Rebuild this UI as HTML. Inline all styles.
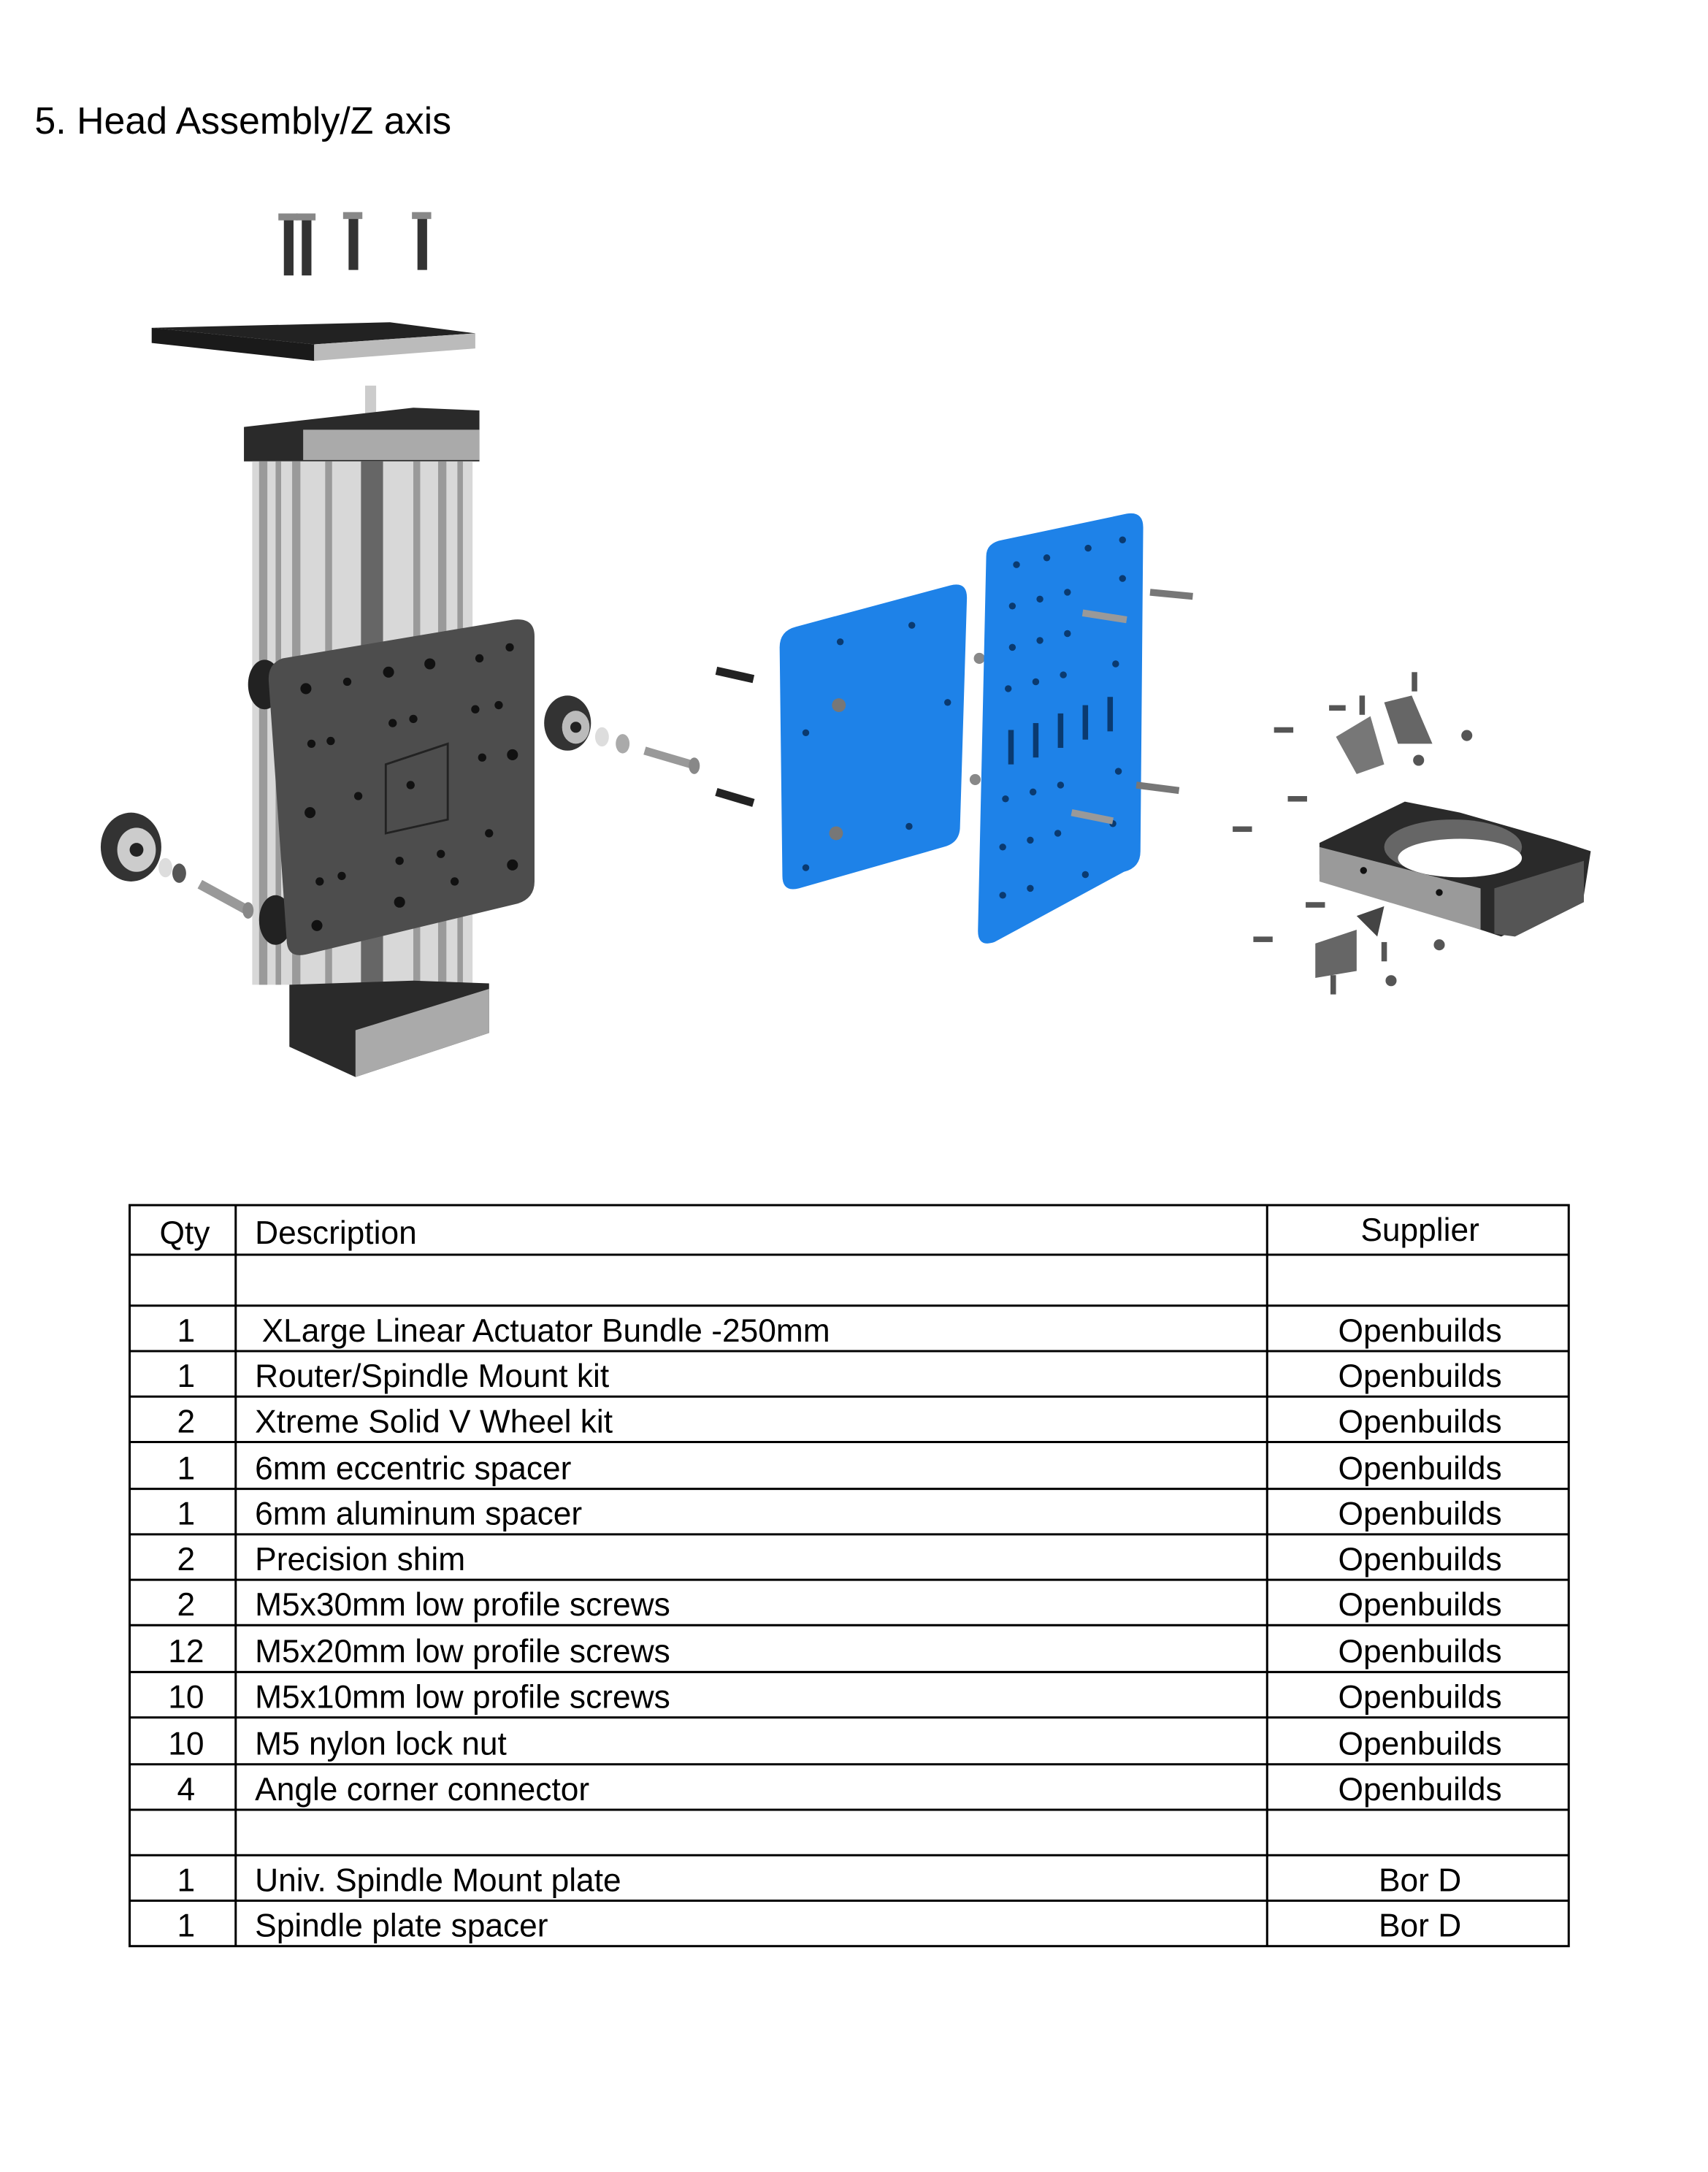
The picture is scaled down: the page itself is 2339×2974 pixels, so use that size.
<!DOCTYPE html>
<html><head><meta charset="utf-8">
<style>
html,body{margin:0;padding:0;background:#fff;}
svg{display:block;}
text{font-family:"Liberation Sans",sans-serif;fill:#000;}
</style></head>
<body>
<svg width="2339" height="2974" viewBox="0 0 1240 1577" xmlns="http://www.w3.org/2000/svg">
<rect width="1240" height="1577" fill="#fff"/>
<text x="25" y="97" font-size="27.5">5. Head Assembly/Z axis</text>

<!-- top screws -->
<g fill="#333">
<rect x="206" y="158" width="7" height="42"/><rect x="202" y="155" width="14" height="5" fill="#888"/>
<rect x="219" y="158" width="7" height="42"/><rect x="215" y="155" width="14" height="5" fill="#888"/>
<rect x="253" y="158" width="7" height="38"/><rect x="249" y="154" width="14" height="5" fill="#888"/>
<rect x="303" y="158" width="7" height="38"/><rect x="299" y="154" width="14" height="5" fill="#888"/>
</g>
<!-- top plate -->
<polygon points="110,238 283,234 345,242 228,250" fill="#222"/>
<polygon points="110,238 228,250 228,262 110,249" fill="#1a1a1a"/>
<polygon points="228,250 345,242 345,253 228,262" fill="#bbb"/>

<!-- actuator -->
<rect x="265" y="280" width="8" height="24" fill="#ccc"/>
<polygon points="177,310 300,296 348,298 348,335 177,335" fill="#2a2a2a"/>
<rect x="220" y="312" width="128" height="22" fill="#aaa"/>
<rect x="183" y="335" width="160" height="380" fill="#d8d8d8"/>
<g fill="#9a9a9a">
<rect x="188" y="335" width="6" height="380"/><rect x="200" y="335" width="4" height="380"/>
<rect x="212" y="335" width="6" height="380"/><rect x="236" y="335" width="5" height="380"/>
<rect x="262" y="335" width="16" height="380" fill="#666"/>
<rect x="300" y="335" width="5" height="380"/><rect x="318" y="335" width="6" height="380"/>
<rect x="332" y="335" width="4" height="380"/>
</g>
<polygon points="210,715 300,712 355,714 355,750 258,782 210,760" fill="#2a2a2a"/>
<polygon points="258,748 355,718 355,750 258,782" fill="#aaa"/>

<!-- wheels behind plate -->
<ellipse cx="192" cy="497" rx="12" ry="18" fill="#222"/>
<ellipse cx="200" cy="668" rx="12" ry="18" fill="#222"/>
<!-- gantry plate -->
<path d="M205,478 L372,450 Q388,448 388,462 L388,640 Q388,652 376,656 L222,693 Q208,696 208,682 L195,495 Q194,482 205,478 Z" fill="#4d4d4d"/>
<g fill="#111">
<circle cx="222" cy="500" r="4"/><circle cx="252" cy="495" r="3"/><circle cx="282" cy="488" r="4"/><circle cx="312" cy="482" r="4"/><circle cx="348" cy="478" r="3"/><circle cx="370" cy="470" r="3"/>
<circle cx="226" cy="540" r="3"/><circle cx="240" cy="538" r="3"/><circle cx="285" cy="525" r="3"/><circle cx="300" cy="522" r="3"/><circle cx="345" cy="515" r="3"/><circle cx="362" cy="512" r="3"/>
<circle cx="225" cy="590" r="4"/><circle cx="260" cy="578" r="3"/><circle cx="298" cy="570" r="3"/><circle cx="350" cy="550" r="3"/><circle cx="372" cy="548" r="4"/>
<circle cx="232" cy="640" r="3"/><circle cx="248" cy="636" r="3"/><circle cx="290" cy="625" r="3"/><circle cx="320" cy="620" r="3"/><circle cx="355" cy="605" r="3"/><circle cx="372" cy="628" r="4"/>
<circle cx="230" cy="672" r="4"/><circle cx="290" cy="655" r="4"/><circle cx="330" cy="640" r="3"/>
</g>
<polygon points="280,555 325,540 325,595 280,605" fill="none" stroke="#222" stroke-width="1.5"/>

<!-- left wheel -->
<ellipse cx="95" cy="615" rx="22" ry="25" fill="#333"/>
<ellipse cx="99" cy="617" rx="14" ry="16" fill="#ccc"/>
<circle cx="99" cy="617" r="5" fill="#222"/>
<ellipse cx="120" cy="630" rx="5" ry="7" fill="#ddd"/>
<ellipse cx="130" cy="634" rx="5" ry="7" fill="#555"/>
<line x1="145" y1="642" x2="178" y2="660" stroke="#999" stroke-width="7"/>
<ellipse cx="180" cy="661" rx="4" ry="6" fill="#888"/>

<!-- right wheel -->
<ellipse cx="412" cy="525" rx="17" ry="20" fill="#333"/>
<ellipse cx="418" cy="528" rx="10" ry="12" fill="#bbb"/>
<circle cx="418" cy="528" r="4" fill="#222"/>
<ellipse cx="437" cy="535" rx="5" ry="7" fill="#ddd"/>
<ellipse cx="452" cy="540" rx="5" ry="7" fill="#aaa"/>
<line x1="468" y1="545" x2="502" y2="555" stroke="#999" stroke-width="6"/>
<ellipse cx="504" cy="556" rx="4" ry="6" fill="#888"/>

<!-- screws left of blue plate -->
<line x1="520" y1="487" x2="547" y2="493" stroke="#222" stroke-width="6"/>
<line x1="520" y1="575" x2="547" y2="583" stroke="#222" stroke-width="6"/>

<!-- blue plate 1 -->
<path d="M578,455 L690,425 Q702,422 702,434 L697,600 Q697,612 685,615 L580,645 Q568,648 568,636 L566,470 Q566,458 578,455 Z" fill="#1e82e8"/>
<g fill="#0a3a70"><circle cx="610" cy="466" r="2.5"/><circle cx="662" cy="454" r="2.5"/><circle cx="585" cy="532" r="2.5"/><circle cx="688" cy="510" r="2.5"/><circle cx="585" cy="630" r="2.5"/><circle cx="660" cy="600" r="2.5"/></g>
<circle cx="609" cy="512" r="5" fill="#777"/><circle cx="607" cy="605" r="5" fill="#777"/>
<circle cx="711" cy="478" r="4" fill="#888"/><circle cx="708" cy="566" r="4" fill="#888"/>

<!-- blue plate 2 -->
<path d="M728,392 L818,373 Q830,371 830,383 L828,618 Q828,630 816,633 L722,684 Q710,688 710,676 L716,404 Q716,394 728,392 Z" fill="#1e82e8"/>
<g fill="#0a3a70">
<circle cx="738" cy="410" r="2.5"/><circle cx="760" cy="405" r="2.5"/><circle cx="790" cy="398" r="2.5"/><circle cx="815" cy="392" r="2.5"/>
<circle cx="735" cy="440" r="2.5"/><circle cx="755" cy="435" r="2.5"/><circle cx="775" cy="430" r="2.5"/><circle cx="815" cy="420" r="2.5"/>
<circle cx="735" cy="470" r="2.5"/><circle cx="755" cy="465" r="2.5"/><circle cx="775" cy="460" r="2.5"/>
<circle cx="732" cy="500" r="2.5"/><circle cx="752" cy="495" r="2.5"/><circle cx="772" cy="490" r="2.5"/><circle cx="810" cy="482" r="2.5"/>
<rect x="732" y="530" width="4" height="25"/><rect x="750" y="525" width="4" height="25"/><rect x="768" y="518" width="4" height="25"/><rect x="786" y="512" width="4" height="25"/><rect x="804" y="506" width="4" height="25"/>
<circle cx="730" cy="580" r="2.5"/><circle cx="750" cy="575" r="2.5"/><circle cx="770" cy="570" r="2.5"/><circle cx="812" cy="560" r="2.5"/>
<circle cx="728" cy="615" r="2.5"/><circle cx="748" cy="610" r="2.5"/><circle cx="768" cy="605" r="2.5"/><circle cx="808" cy="598" r="2.5"/>
<circle cx="728" cy="650" r="2.5"/><circle cx="748" cy="645" r="2.5"/><circle cx="788" cy="635" r="2.5"/>
</g>
<line x1="786" y1="445" x2="818" y2="450" stroke="#999" stroke-width="5"/>
<line x1="778" y1="590" x2="808" y2="596" stroke="#999" stroke-width="5"/>
<line x1="835" y1="430" x2="866" y2="433" stroke="#777" stroke-width="5"/>
<line x1="825" y1="570" x2="856" y2="574" stroke="#777" stroke-width="5"/>

<!-- spindle mount -->
<polygon points="958,612 1020,582 1060,590 1130,610 1155,618 1150,650 1090,680 1075,675 958,635" fill="#2a2a2a"/>
<ellipse cx="1055" cy="615" rx="50" ry="20" fill="#666"/>
<ellipse cx="1060" cy="623" rx="45" ry="14" fill="#fff"/>
<polygon points="958,615 1075,645 1075,675 958,640" fill="#9a9a9a"/>
<polygon points="1085,645 1150,625 1150,655 1100,680 1085,678" fill="#555"/>
<circle cx="990" cy="632" r="2.5" fill="#111"/><circle cx="1045" cy="648" r="2.5" fill="#111"/>
<!-- small parts -->
<polygon points="970,535 995,520 1005,555 985,562" fill="#777"/>
<polygon points="1005,510 1025,505 1040,540 1015,540" fill="#666"/>
<polygon points="955,685 985,675 985,705 955,710" fill="#666"/>
<polygon points="985,665 1005,658 1000,680" fill="#444"/>
<g fill="#555">
<rect x="925" y="528" width="14" height="4"/><rect x="965" y="512" width="12" height="4"/><rect x="987" y="505" width="4" height="14"/><rect x="1025" y="488" width="4" height="14"/>
<circle cx="1065" cy="534" r="4"/><circle cx="1030" cy="552" r="4"/>
<rect x="935" y="578" width="14" height="4"/><rect x="895" y="600" width="14" height="4"/>
<rect x="948" y="655" width="14" height="4"/><rect x="910" y="680" width="14" height="4"/>
<rect x="1003" y="684" width="4" height="14"/><rect x="966" y="708" width="4" height="14"/>
<circle cx="1045" cy="686" r="4"/><circle cx="1010" cy="712" r="4"/>
</g>

<!-- table -->
<g stroke="#000" stroke-width="1.6" fill="none">
<rect x="94" y="875" width="1045" height="538"/>
<line x1="171" y1="875" x2="171" y2="1413"/>
<line x1="920" y1="875" x2="920" y2="1413"/>
<line x1="94" y1="911" x2="1139" y2="911"/>
<line x1="94" y1="948" x2="1139" y2="948"/>
<line x1="94" y1="981" x2="1139" y2="981"/>
<line x1="94" y1="1014" x2="1139" y2="1014"/>
<line x1="94" y1="1047" x2="1139" y2="1047"/>
<line x1="94" y1="1081" x2="1139" y2="1081"/>
<line x1="94" y1="1114" x2="1139" y2="1114"/>
<line x1="94" y1="1147" x2="1139" y2="1147"/>
<line x1="94" y1="1180" x2="1139" y2="1180"/>
<line x1="94" y1="1214" x2="1139" y2="1214"/>
<line x1="94" y1="1247" x2="1139" y2="1247"/>
<line x1="94" y1="1281" x2="1139" y2="1281"/>
<line x1="94" y1="1314" x2="1139" y2="1314"/>
<line x1="94" y1="1347" x2="1139" y2="1347"/>
<line x1="94" y1="1380" x2="1139" y2="1380"/>
</g>
<g font-size="23.5">
<text x="134" y="903" text-anchor="middle">Qty</text>
<text x="185" y="903">Description</text>
<text x="1031" y="901" text-anchor="middle">Supplier</text>

<text x="135" y="974" text-anchor="middle">1</text><text x="190" y="974">XLarge Linear Actuator Bundle -250mm</text><text x="1031" y="974" text-anchor="middle">Openbuilds</text>
<text x="135" y="1007" text-anchor="middle">1</text><text x="185" y="1007">Router/Spindle Mount kit</text><text x="1031" y="1007" text-anchor="middle">Openbuilds</text>
<text x="135" y="1040" text-anchor="middle">2</text><text x="185" y="1040">Xtreme Solid V Wheel kit</text><text x="1031" y="1040" text-anchor="middle">Openbuilds</text>
<text x="135" y="1074" text-anchor="middle">1</text><text x="185" y="1074">6mm eccentric spacer</text><text x="1031" y="1074" text-anchor="middle">Openbuilds</text>
<text x="135" y="1107" text-anchor="middle">1</text><text x="185" y="1107">6mm aluminum spacer</text><text x="1031" y="1107" text-anchor="middle">Openbuilds</text>
<text x="135" y="1140" text-anchor="middle">2</text><text x="185" y="1140">Precision shim</text><text x="1031" y="1140" text-anchor="middle">Openbuilds</text>
<text x="135" y="1173" text-anchor="middle">2</text><text x="185" y="1173">M5x30mm low profile screws</text><text x="1031" y="1173" text-anchor="middle">Openbuilds</text>
<text x="135" y="1207" text-anchor="middle">12</text><text x="185" y="1207">M5x20mm low profile screws</text><text x="1031" y="1207" text-anchor="middle">Openbuilds</text>
<text x="135" y="1240" text-anchor="middle">10</text><text x="185" y="1240">M5x10mm low profile screws</text><text x="1031" y="1240" text-anchor="middle">Openbuilds</text>
<text x="135" y="1274" text-anchor="middle">10</text><text x="185" y="1274">M5 nylon lock nut</text><text x="1031" y="1274" text-anchor="middle">Openbuilds</text>
<text x="135" y="1307" text-anchor="middle">4</text><text x="185" y="1307">Angle corner connector</text><text x="1031" y="1307" text-anchor="middle">Openbuilds</text>
<text x="135" y="1373" text-anchor="middle">1</text><text x="185" y="1373">Univ. Spindle Mount plate</text><text x="1031" y="1373" text-anchor="middle">Bor D</text>
<text x="135" y="1406" text-anchor="middle">1</text><text x="185" y="1406">Spindle plate spacer</text><text x="1031" y="1406" text-anchor="middle">Bor D</text>
</g>
</svg>
</body></html>
